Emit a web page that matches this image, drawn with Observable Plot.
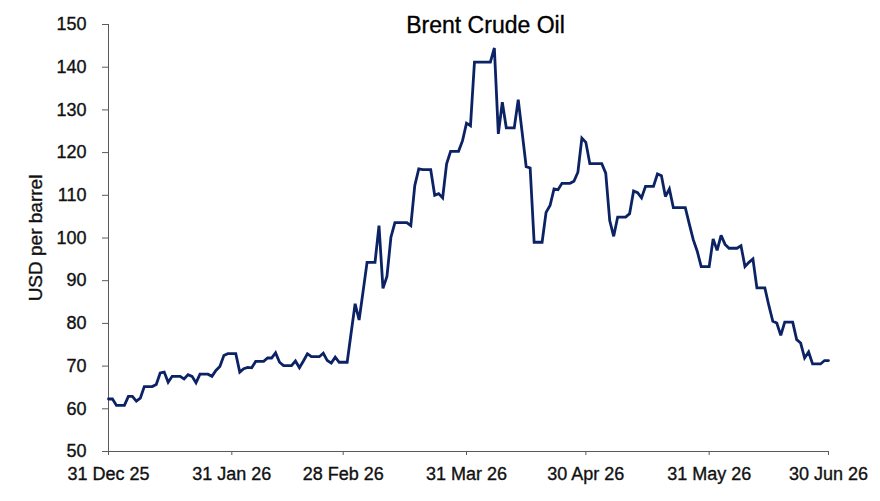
<!DOCTYPE html>
<html>
<head>
<meta charset="utf-8">
<script src="https://cdn.jsdelivr.net/npm/d3@7"></script>
<script src="https://cdn.jsdelivr.net/npm/@observablehq/plot@0.6"></script>
<style>
  html, body { margin: 0; padding: 0; background: #fff; }
  #chart svg text { stroke: currentColor; stroke-width: 0.35px; paint-order: stroke; }
</style>
</head>
<body>
<div id="chart"></div>
<script>
// ---- data (daily, starting 31 Dec 2025; weekends/holidays held flat) ----
const startDate = "2025-12-31";
const endDate = "2026-06-30";
const prices = [
  62.3, 62.3, 60.8, 60.8, 60.8, 62.9, 62.9, 61.8, 62.5, 65.2,
  65.2, 65.2, 65.7, 68.4, 68.6, 66.2, 67.6, 67.6, 67.6, 67.0,
  68.0, 67.6, 66.1, 68.1, 68.1, 68.1, 67.6, 69.0, 69.9, 72.5,
  72.9, 72.9, 72.9, 68.6, 69.4, 69.7, 69.6, 71.1, 71.1, 71.1,
  71.9, 71.9, 73.1, 70.9, 70.1, 70.1, 70.1, 71.2, 69.6, 71.2,
  72.9, 72.2, 72.2, 72.2, 73.0, 71.3, 70.7, 72.1, 70.9, 70.9,
  70.9, 77.8, 84.6, 80.8, 87.5, 94.3, 94.3, 94.3, 102.9, 88.2,
  91.0, 100.2, 103.6, 103.6, 103.6, 103.6, 102.9, 112.3, 116.2, 116.0,
  116.0, 116.0, 110.0, 110.4, 109.4, 117.4, 120.3, 120.3, 120.3, 122.8,
  126.9, 126.3, 141.2, 141.2, 141.2, 141.2, 141.2, 144.5, 124.4, 131.8,
  125.8, 125.8, 125.8, 132.4, 124.6, 116.7, 116.4, 99.0, 99.0, 99.0,
  106.0, 107.6, 111.5, 111.3, 112.8, 112.8, 112.8, 113.3, 115.4, 123.4,
  122.4, 117.4, 117.4, 117.4, 117.4, 115.2, 104.1, 100.4, 104.9, 104.9,
  104.9, 105.7, 111.0, 110.6, 109.4, 112.1, 112.1, 112.1, 115.0, 114.6,
  109.7, 111.5, 107.1, 107.1, 107.1, 107.1, 103.3, 99.6, 96.9, 93.3,
  93.3, 93.3, 99.8, 97.1, 100.6, 98.5, 97.6, 97.6, 97.6, 98.2,
  93.3, 94.3, 95.1, 88.3, 88.3, 88.3, 84.2, 80.5, 80.1, 77.2,
  80.3, 80.3, 80.3, 76.2, 75.4, 71.9, 73.3, 70.5, 70.5, 70.5,
  71.3, 71.3
];
const xTickDates = ["2025-12-31", "2026-01-31", "2026-02-28", "2026-03-31", "2026-04-30", "2026-05-31", "2026-06-30"];
const yTicks = [50, 60, 70, 80, 90, 100, 110, 120, 130, 140, 150];
const titleText = "Brent Crude Oil";
const yLabel = "USD per barrel";

// ---- build table ----
const start = new Date(startDate + "T00:00:00Z");
const end = new Date(endDate + "T00:00:00Z");
const series = prices.map((v, i) => ({ date: d3.utcDay.offset(start, i), value: v }));
const xTicks = xTickDates.map(s => new Date(s + "T00:00:00Z"));

const axisColor = "#5a5a5a";
const textColor = "#111";

const chart = Plot.plot({
  width: 880,
  height: 501,
  marginLeft: 108,
  marginRight: 52,
  marginTop: 24,
  marginBottom: 50,
  style: {
    fontFamily: "'Liberation Sans', Arial, sans-serif",
    fontSize: "18px",
    color: textColor,
    background: "#fff",
    overflow: "visible"
  },
  x: { type: "utc", domain: [start, end], label: null },
  y: { domain: [50, 150], label: null },
  marks: [
    Plot.axisX({
      ticks: xTicks,
      tickFormat: d3.utcFormat("%d %b %y"),
      tickSize: 4,
      tickPadding: 12,
      stroke: axisColor,
      fill: textColor,
      fontSize: 18,
      label: null
    }),
    Plot.axisY({
      ticks: yTicks,
      tickSize: 6,
      tickPadding: 16,
      stroke: axisColor,
      fill: textColor,
      fontSize: 18,
      label: null
    }),
    Plot.ruleY([50], { stroke: axisColor, strokeWidth: 1 }),
    Plot.ruleX([start], { stroke: axisColor, strokeWidth: 1 }),
    Plot.lineY(series, {
      x: "date",
      y: "value",
      stroke: "#0b2265",
      strokeWidth: 2.8,
      strokeLinejoin: "miter",
      strokeMiterlimit: 3
    }),
    Plot.text([titleText], {
      frameAnchor: "top",
      dx: 17,
      dy: 1,
      lineAnchor: "middle",
      fontSize: 23,
      fill: "#000"
    }),
    Plot.text([yLabel], {
      frameAnchor: "left",
      dx: -73,
      rotate: -90,
      lineAnchor: "middle",
      textAnchor: "middle",
      fontSize: 19,
      fill: textColor
    })
  ]
});

document.getElementById("chart").appendChild(chart);
</script>
</body>
</html>
